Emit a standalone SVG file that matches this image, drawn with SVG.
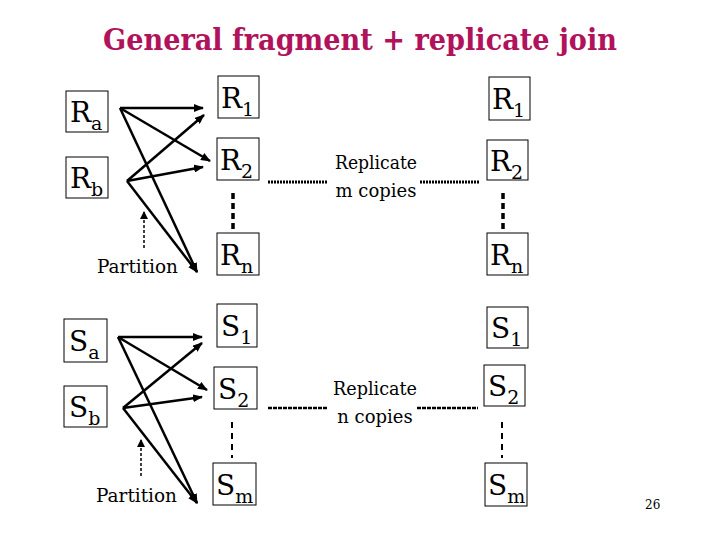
<svg xmlns="http://www.w3.org/2000/svg" width="720" height="540" viewBox="0 0 720 540">
<style>
.title{font-family:"DejaVu Serif",serif;font-size:30px;font-weight:bold;fill:#B0125B}
.lbl{font-family:"DejaVu Serif",serif;font-size:28px;fill:#000}
.sub{font-size:19px}
.box{fill:#fff;stroke:#000;stroke-width:1}
.arr{stroke:#000;stroke-width:2.5;fill:none;marker-end:url(#ah)}
.part{stroke:#000;stroke-width:1.5;fill:none;stroke-dasharray:3,2;marker-end:url(#ahs)}
.dotR{stroke:#000;stroke-width:3;fill:none;stroke-dasharray:2,1}
.vdR{stroke:#000;stroke-width:3.5;fill:none;stroke-dasharray:6,4}
.dotS{stroke:#000;stroke-width:2.5;fill:none;stroke-dasharray:4,1}
.vdS{stroke:#000;stroke-width:2;fill:none;stroke-dasharray:6,5}
.txt{font-family:"DejaVu Serif",serif;font-size:19px;fill:#000}
.cp{font-family:"DejaVu Serif",serif;font-size:18px;fill:#000}
.pg{font-family:"DejaVu Serif",serif;font-size:12px;fill:#000}
</style>
<defs>
<marker id="ah" markerWidth="10" markerHeight="8" refX="9" refY="4" orient="auto" markerUnits="userSpaceOnUse"><path d="M0,0 L10,4 L0,8 Z" fill="#000"/></marker>
<marker id="ahs" markerWidth="8" markerHeight="8" refX="7" refY="4" orient="auto" markerUnits="userSpaceOnUse"><path d="M0,0 L8,4 L0,8 Z" fill="#000"/></marker>
</defs>
<rect width="720" height="540" fill="#fff"/>
<text class="title" x="360" y="50" text-anchor="middle" textLength="514" lengthAdjust="spacingAndGlyphs">General fragment + replicate join</text>

<g id="connectors">
<line class="arr" x1="120" y1="108" x2="203" y2="108"/>
<line class="arr" x1="120" y1="108" x2="210" y2="161"/>
<line class="arr" x1="120" y1="108" x2="197" y2="272"/>
<line class="arr" x1="127" y1="181" x2="204" y2="115"/>
<line class="arr" x1="127" y1="181" x2="203" y2="167"/>
<line class="arr" x1="127" y1="181" x2="197" y2="272"/>
<line class="part" x1="144" y1="248" x2="144" y2="212"/>
<line class="arr" x1="118" y1="337" x2="202" y2="337"/>
<line class="arr" x1="118" y1="337" x2="207" y2="390"/>
<line class="arr" x1="118" y1="337" x2="197" y2="503"/>
<line class="arr" x1="123" y1="408" x2="202" y2="343"/>
<line class="arr" x1="123" y1="408" x2="202" y2="397"/>
<line class="arr" x1="123" y1="408" x2="197" y2="503"/>
<line class="part" x1="141" y1="476" x2="141" y2="440"/>
<line class="dotR" x1="268" y1="182" x2="327" y2="182"/>
<line class="dotR" x1="420" y1="182" x2="480" y2="182"/>
<line class="vdR" x1="233" y1="193" x2="233" y2="229"/>
<line class="vdR" x1="503" y1="193" x2="503" y2="229"/>
<line class="dotS" x1="268" y1="408" x2="328" y2="408"/>
<line class="dotS" x1="417" y1="408" x2="478" y2="408"/>
<line class="vdS" x1="232" y1="422" x2="232" y2="458"/>
<line class="vdS" x1="502" y1="422" x2="502" y2="458"/>
</g>

<g id="Ra"><rect class="box" x="66" y="91" width="42" height="41"/><text class="lbl" x="70" y="122">R<tspan class="sub" dy="8">a</tspan></text></g>
<g id="Rb"><rect class="box" x="66" y="157" width="42" height="41"/><text class="lbl" x="70" y="188">R<tspan class="sub" dy="8">b</tspan></text></g>
<g id="R1"><rect class="box" x="218" y="76" width="41" height="42"/><text class="lbl" x="221" y="108">R<tspan class="sub" dy="8">1</tspan></text></g>
<g id="R2"><rect class="box" x="217" y="138" width="42" height="42"/><text class="lbl" x="220" y="170">R<tspan class="sub" dy="8">2</tspan></text></g>
<g id="Rn"><rect class="box" x="217" y="233" width="42" height="42"/><text class="lbl" x="220" y="265">R<tspan class="sub" dy="8">n</tspan></text></g>
<g id="R1c"><rect class="box" x="489" y="77" width="41" height="43"/><text class="lbl" x="492" y="109">R<tspan class="sub" dy="8">1</tspan></text></g>
<g id="R2c"><rect class="box" x="487" y="140" width="41" height="40"/><text class="lbl" x="490" y="171">R<tspan class="sub" dy="8">2</tspan></text></g>
<g id="Rnc"><rect class="box" x="487" y="233" width="41" height="42"/><text class="lbl" x="490" y="265">R<tspan class="sub" dy="8">n</tspan></text></g>
<g id="partR"><text class="txt" x="97" y="273" textLength="81" lengthAdjust="spacingAndGlyphs">Partition</text></g>
<g id="repR"><text class="txt" x="376" y="169" text-anchor="middle" textLength="82" lengthAdjust="spacingAndGlyphs">Replicate</text><text class="cp" x="376" y="197" text-anchor="middle">m copies</text></g>

<g id="Sa"><rect class="box" x="64" y="319" width="43" height="43"/><text class="lbl" x="69" y="351">S<tspan class="sub" dy="8">a</tspan></text></g>
<g id="Sb"><rect class="box" x="64" y="386" width="43" height="41"/><text class="lbl" x="69" y="417">S<tspan class="sub" dy="8">b</tspan></text></g>
<g id="S1"><rect class="box" x="217" y="304" width="40" height="43"/><text class="lbl" x="221" y="336">S<tspan class="sub" dy="8">1</tspan></text></g>
<g id="S2"><rect class="box" x="214" y="367" width="43" height="42"/><text class="lbl" x="218" y="399">S<tspan class="sub" dy="8">2</tspan></text></g>
<g id="Sm"><rect class="box" x="213" y="463" width="43" height="42"/><text class="lbl" x="216" y="495">S<tspan class="sub" dy="8">m</tspan></text></g>
<g id="S1c"><rect class="box" x="487" y="307" width="41" height="41"/><text class="lbl" x="491" y="338">S<tspan class="sub" dy="8">1</tspan></text></g>
<g id="S2c"><rect class="box" x="484" y="365" width="41" height="41"/><text class="lbl" x="488" y="396">S<tspan class="sub" dy="8">2</tspan></text></g>
<g id="Smc"><rect class="box" x="485" y="463" width="42" height="43"/><text class="lbl" x="488" y="495">S<tspan class="sub" dy="8">m</tspan></text></g>
<g id="partS"><text class="txt" x="96" y="502" textLength="81" lengthAdjust="spacingAndGlyphs">Partition</text></g>
<g id="repS"><text class="txt" x="375" y="395" text-anchor="middle" textLength="84" lengthAdjust="spacingAndGlyphs">Replicate</text><text class="cp" x="375" y="423" text-anchor="middle">n copies</text></g>

<text class="pg" x="645" y="509">26</text>
</svg>
